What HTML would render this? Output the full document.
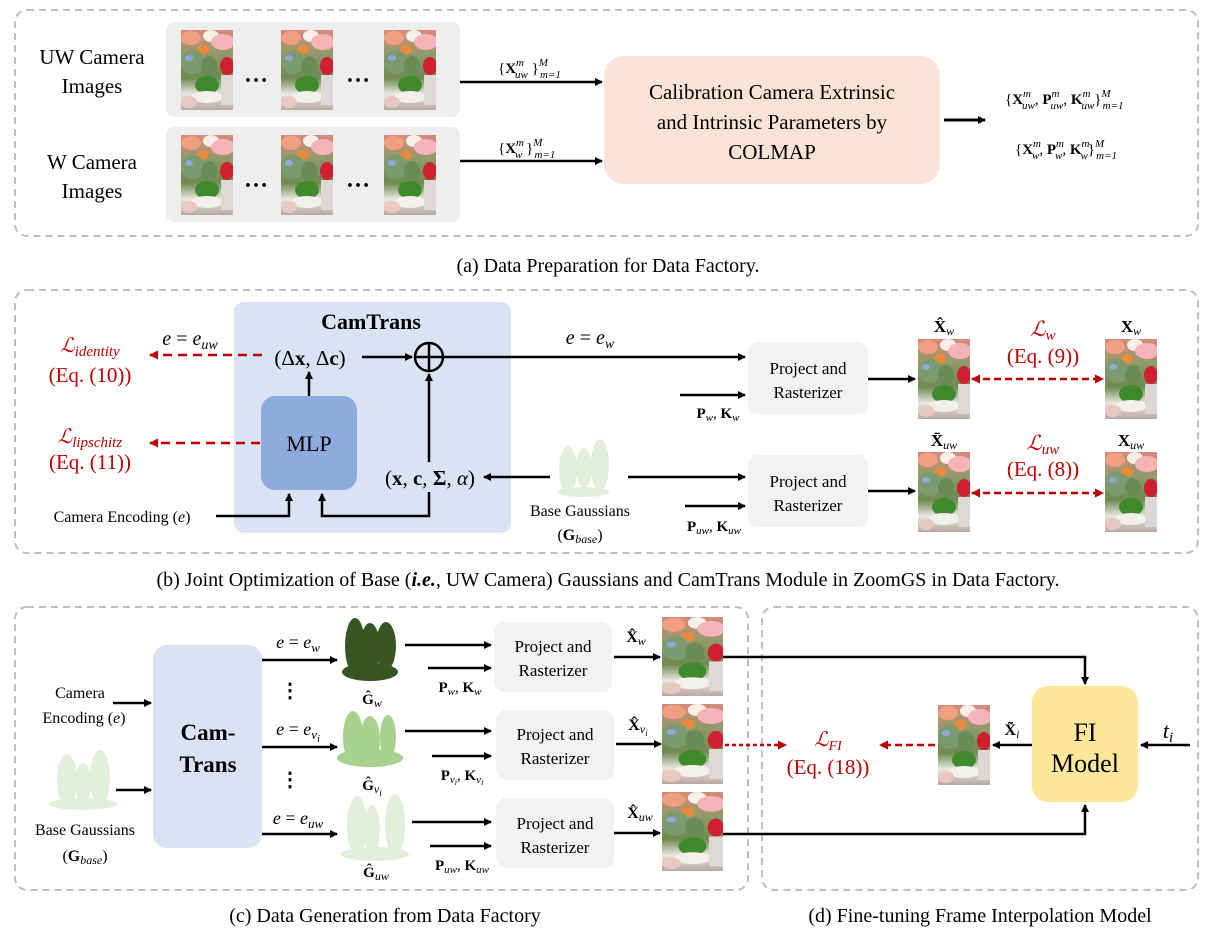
<!DOCTYPE html>
<html><head><meta charset="utf-8"><style>
html,body{margin:0;padding:0;background:#fff}
svg{display:block}
text{font-family:"Liberation Serif",serif;fill:#000}
.r{fill:#c00000}
.b{font-weight:bold}
.i{font-style:italic}
</style></head><body>
<svg width="1217" height="935" viewBox="0 0 1217 935" xmlns="http://www.w3.org/2000/svg">
<defs>
<marker id="ar" markerWidth="8" markerHeight="8" refX="7" refY="4" orient="auto" markerUnits="userSpaceOnUse"><path d="M0,0 L8,4 L0,8 z" fill="#000"/></marker>
<marker id="rr" markerWidth="9" markerHeight="9" refX="8" refY="4.5" orient="auto-start-reverse" markerUnits="userSpaceOnUse"><path d="M0,0 L9,4.5 L0,9 z" fill="#c00000"/></marker>
<linearGradient id="pg" x1="0" y1="0" x2="0" y2="1">
<stop offset="0" stop-color="#d98a7a"/><stop offset="0.3" stop-color="#8f9a6a"/><stop offset="0.6" stop-color="#6f8a50"/><stop offset="0.8" stop-color="#e8e6e0"/><stop offset="1" stop-color="#b8a8a0"/></linearGradient>
<symbol id="ph" viewBox="0 0 52 80" preserveAspectRatio="none">
<rect width="52" height="80" fill="url(#pg)"/>
<ellipse cx="10" cy="8" rx="10" ry="7" fill="#f0a080"/>
<ellipse cx="30" cy="6" rx="8" ry="6" fill="#f8f0e8"/>
<ellipse cx="42" cy="12" rx="12" ry="8" fill="#f4b4b8"/>
<ellipse cx="22" cy="20" rx="6" ry="5" fill="#e88a40"/>
<ellipse cx="46" cy="36" rx="7" ry="9" fill="#d02030"/>
<ellipse cx="12" cy="32" rx="12" ry="12" fill="#7b9a70"/>
<ellipse cx="8" cy="28" rx="4" ry="3" fill="#90a8d8"/>
<ellipse cx="28" cy="36" rx="8" ry="10" fill="#6a8a58"/>
<ellipse cx="26" cy="55" rx="12" ry="9" fill="#3f8a2a"/>
<ellipse cx="26" cy="67" rx="16" ry="6" fill="#f2f0ea"/>
<rect x="40" y="45" width="12" height="30" fill="#ddd8d6"/>
<ellipse cx="8" cy="72" rx="8" ry="6" fill="#e8c8c0"/>
</symbol>
</defs>

<!-- Panel a -->
<rect x="15" y="10" width="1183" height="226" rx="12" fill="none" stroke="#bfbfbf" stroke-width="2" stroke-dasharray="7,5"/>
<rect x="166" y="22" width="294" height="95" rx="8" fill="#eeeeee"/>
<rect x="166" y="127" width="294" height="95" rx="8" fill="#eeeeee"/>
<use href="#ph" x="181" y="30" width="52" height="80"/>
<use href="#ph" x="281" y="30" width="52" height="80"/>
<use href="#ph" x="384" y="30" width="52" height="80"/>
<use href="#ph" x="181" y="135" width="52" height="80"/>
<use href="#ph" x="281" y="135" width="52" height="80"/>
<use href="#ph" x="384" y="135" width="52" height="80"/>
<text x="256" y="82" font-size="24" class="b" text-anchor="middle">…</text>
<text x="358" y="82" font-size="24" class="b" text-anchor="middle">…</text>
<text x="256" y="187" font-size="24" class="b" text-anchor="middle">…</text>
<text x="358" y="187" font-size="24" class="b" text-anchor="middle">…</text>
<text x="92" y="64" font-size="21" text-anchor="middle">UW Camera</text>
<text x="92" y="93" font-size="21" text-anchor="middle">Images</text>
<text x="92" y="169" font-size="21" text-anchor="middle">W Camera</text>
<text x="92" y="198" font-size="21" text-anchor="middle">Images</text>
<line x1="460" y1="82" x2="602" y2="82" stroke="#000" stroke-width="2.5" marker-end="url(#ar)"/>
<line x1="460" y1="161" x2="602" y2="161" stroke="#000" stroke-width="2.5" marker-end="url(#ar)"/>
<text x="498" y="73" font-size="15">{<tspan class="b">X</tspan><tspan class="i" font-size="11" dy="-7">m</tspan><tspan class="i" font-size="11" dx="-9" dy="12">uw</tspan><tspan dy="-5"> }</tspan><tspan class="i" font-size="11" dy="-7">M</tspan><tspan class="i" font-size="11" dx="-8" dy="12">m=1</tspan></text>
<text x="498" y="153" font-size="15">{<tspan class="b">X</tspan><tspan class="i" font-size="11" dy="-7">m</tspan><tspan class="i" font-size="11" dx="-9" dy="12">w</tspan><tspan dy="-5"> }</tspan><tspan class="i" font-size="11" dy="-7">M</tspan><tspan class="i" font-size="11" dx="-8" dy="12">m=1</tspan></text>
<rect x="604" y="56" width="336" height="128" rx="20" fill="#fbe4d5"/>
<text x="772" y="99" font-size="21" text-anchor="middle">Calibration Camera Extrinsic</text>
<text x="772" y="129" font-size="21" text-anchor="middle">and Intrinsic Parameters by</text>
<text x="772" y="159" font-size="21" text-anchor="middle">COLMAP</text>
<line x1="944" y1="120" x2="985" y2="120" stroke="#000" stroke-width="3" marker-end="url(#ar)"/>
<text x="1005" y="104" font-size="15">{<tspan class="b">X</tspan><tspan class="i" font-size="11" dy="-7">m</tspan><tspan class="i" font-size="11" dx="-9" dy="12">uw</tspan><tspan dy="-5">, </tspan><tspan class="b">P</tspan><tspan class="i" font-size="11" dy="-7">m</tspan><tspan class="i" font-size="11" dx="-9" dy="12">uw</tspan><tspan dy="-5">, </tspan><tspan class="b">K</tspan><tspan class="i" font-size="11" dy="-7">m</tspan><tspan class="i" font-size="11" dx="-9" dy="12">uw</tspan><tspan dy="-5">}</tspan><tspan class="i" font-size="11" dy="-7">M</tspan><tspan class="i" font-size="11" dx="-8" dy="12">m=1</tspan></text>
<text x="1015" y="154" font-size="15">{<tspan class="b">X</tspan><tspan class="i" font-size="11" dy="-7">m</tspan><tspan class="i" font-size="11" dx="-9" dy="12">w</tspan><tspan dy="-5">, </tspan><tspan class="b">P</tspan><tspan class="i" font-size="11" dy="-7">m</tspan><tspan class="i" font-size="11" dx="-9" dy="12">w</tspan><tspan dy="-5">, </tspan><tspan class="b">K</tspan><tspan class="i" font-size="11" dy="-7">m</tspan><tspan class="i" font-size="11" dx="-9" dy="12">w</tspan><tspan dy="-5">}</tspan><tspan class="i" font-size="11" dy="-7">M</tspan><tspan class="i" font-size="11" dx="-8" dy="12">m=1</tspan></text>
<text x="608" y="272" font-size="20" text-anchor="middle">(a) Data Preparation for Data Factory.</text>

<!-- Panel b -->
<rect x="15" y="290" width="1183" height="263" rx="12" fill="none" stroke="#bfbfbf" stroke-width="2" stroke-dasharray="7,5"/>
<rect x="234" y="302" width="277" height="231" rx="10" fill="#dae3f3"/>
<text x="371" y="329" font-size="22" class="b" text-anchor="middle">CamTrans</text>
<rect x="261" y="396" width="96" height="94" rx="14" fill="#8faadc"/>
<text x="309" y="451" font-size="22" text-anchor="middle">MLP</text>
<text x="310" y="365" font-size="21" text-anchor="middle">(Δ<tspan class="b">x</tspan>, Δ<tspan class="b">c</tspan>)</text>
<line x1="309" y1="396" x2="309" y2="372" stroke="#000" stroke-width="2.5" marker-end="url(#ar)"/>
<line x1="362" y1="357" x2="412" y2="357" stroke="#000" stroke-width="2.5" marker-end="url(#ar)"/>
<circle cx="429" cy="357" r="14" fill="none" stroke="#000" stroke-width="2.5"/>
<line x1="415" y1="357" x2="443" y2="357" stroke="#000" stroke-width="2.5"/>
<line x1="429" y1="343" x2="429" y2="371" stroke="#000" stroke-width="2.5"/>
<line x1="429" y1="462" x2="429" y2="374" stroke="#000" stroke-width="2.5" marker-end="url(#ar)"/>
<text x="430" y="485" font-size="21" text-anchor="middle">(<tspan class="b">x</tspan>, <tspan class="b">c</tspan>, <tspan class="b">Σ</tspan>, <tspan class="i">α</tspan>)</text>
<polyline points="429,492 429,516 322,516 322,494" fill="none" stroke="#000" stroke-width="2.5" marker-end="url(#ar)"/>
<text x="122" y="522" font-size="16" text-anchor="middle">Camera Encoding (<tspan class="i">e</tspan>)</text>
<polyline points="216,516 289,516 289,494" fill="none" stroke="#000" stroke-width="2.5" marker-end="url(#ar)"/>
<line x1="262" y1="355" x2="150" y2="355" stroke="#c00000" stroke-width="2.5" stroke-dasharray="9,6" marker-end="url(#rr)"/>
<line x1="260" y1="443" x2="150" y2="443" stroke="#c00000" stroke-width="2.5" stroke-dasharray="9,6" marker-end="url(#rr)"/>
<text x="90" y="352" font-size="20" class="r i" text-anchor="middle">ℒ<tspan font-size="15" dy="4">identity</tspan></text>
<text x="90" y="382" font-size="21" class="r" text-anchor="middle">(Eq. (10))</text>
<text x="90" y="443" font-size="20" class="r i" text-anchor="middle">ℒ<tspan font-size="15" dy="4">lipschitz</tspan></text>
<text x="90" y="469" font-size="21" class="r" text-anchor="middle">(Eq. (11))</text>
<text x="190" y="345" font-size="20" text-anchor="middle"><tspan class="i">e</tspan> = <tspan class="i">e</tspan><tspan class="i" font-size="14" dy="4">uw</tspan></text>
<line x1="443" y1="357" x2="745" y2="357" stroke="#000" stroke-width="2.5" marker-end="url(#ar)"/>
<text x="590" y="344" font-size="20" text-anchor="middle"><tspan class="i">e</tspan> = <tspan class="i">e</tspan><tspan class="i" font-size="14" dy="4">w</tspan></text>
<ellipse cx="568" cy="470" rx="9" ry="24" fill="#e2efda"/>
<ellipse cx="584" cy="468" rx="8" ry="20" fill="#e2efda"/>
<ellipse cx="600" cy="465" rx="9" ry="26" fill="#e2efda"/>
<ellipse cx="583" cy="492" rx="26" ry="5" fill="#e2efda"/>
<line x1="550" y1="477" x2="484" y2="477" stroke="#000" stroke-width="2.5" marker-end="url(#ar)"/>
<text x="580" y="516" font-size="16" text-anchor="middle">Base Gaussians</text>
<text x="580" y="540" font-size="16" text-anchor="middle">(<tspan class="b">G</tspan><tspan class="i" font-size="12" dy="3">base</tspan><tspan dy="-3">)</tspan></text>
<rect x="748" y="342" width="120" height="72" rx="10" fill="#f2f2f2"/>
<text x="808" y="374" font-size="17" text-anchor="middle">Project and</text>
<text x="808" y="398" font-size="17" text-anchor="middle">Rasterizer</text>
<rect x="748" y="455" width="120" height="72" rx="10" fill="#f2f2f2"/>
<text x="808" y="487" font-size="17" text-anchor="middle">Project and</text>
<text x="808" y="511" font-size="17" text-anchor="middle">Rasterizer</text>
<line x1="680" y1="395" x2="745" y2="395" stroke="#000" stroke-width="2.5" marker-end="url(#ar)"/>
<text x="718" y="418" font-size="15" class="b" text-anchor="middle">P<tspan class="i" font-size="11" dy="3" font-weight="normal">w</tspan><tspan dy="-3" font-weight="normal">, </tspan>K<tspan class="i" font-size="11" dy="3" font-weight="normal">w</tspan></text>
<line x1="628" y1="477" x2="745" y2="477" stroke="#000" stroke-width="2.5" marker-end="url(#ar)"/>
<line x1="685" y1="506" x2="745" y2="506" stroke="#000" stroke-width="2.5" marker-end="url(#ar)"/>
<text x="714" y="531" font-size="15" class="b" text-anchor="middle">P<tspan class="i" font-size="11" dy="3" font-weight="normal">uw</tspan><tspan dy="-3" font-weight="normal">, </tspan>K<tspan class="i" font-size="11" dy="3" font-weight="normal">uw</tspan></text>
<line x1="868" y1="379" x2="915" y2="379" stroke="#000" stroke-width="2.5" marker-end="url(#ar)"/>
<line x1="868" y1="491" x2="915" y2="491" stroke="#000" stroke-width="2.5" marker-end="url(#ar)"/>
<use href="#ph" x="918" y="339" width="52" height="80"/>
<use href="#ph" x="1105" y="339" width="52" height="80"/>
<use href="#ph" x="918" y="452" width="52" height="80"/>
<use href="#ph" x="1105" y="452" width="52" height="80"/>
<line x1="972" y1="379" x2="1103" y2="379" stroke="#c00000" stroke-width="2.5" stroke-dasharray="7,4" marker-start="url(#rr)" marker-end="url(#rr)"/>
<line x1="972" y1="493" x2="1103" y2="493" stroke="#c00000" stroke-width="2.5" stroke-dasharray="7,4" marker-start="url(#rr)" marker-end="url(#rr)"/>
<text x="1043" y="336" font-size="21" class="r i" text-anchor="middle">ℒ<tspan font-size="15" dy="4">w</tspan></text>
<text x="1043" y="363" font-size="21" class="r" text-anchor="middle">(Eq. (9))</text>
<text x="1043" y="450" font-size="21" class="r i" text-anchor="middle">ℒ<tspan font-size="15" dy="4">uw</tspan></text>
<text x="1043" y="476" font-size="21" class="r" text-anchor="middle">(Eq. (8))</text>
<text x="944" y="332" font-size="17" class="b" text-anchor="middle">X̂<tspan class="i" font-size="12" dy="3" font-weight="normal">w</tspan></text>
<text x="1131" y="332" font-size="17" class="b" text-anchor="middle">X<tspan class="i" font-size="12" dy="3" font-weight="normal">w</tspan></text>
<text x="944" y="446" font-size="17" class="b" text-anchor="middle">X̄<tspan class="i" font-size="12" dy="3" font-weight="normal">uw</tspan></text>
<text x="1131" y="446" font-size="17" class="b" text-anchor="middle">X<tspan class="i" font-size="12" dy="3" font-weight="normal">uw</tspan></text>
<text x="608" y="586" font-size="20" text-anchor="middle">(b) Joint Optimization of Base (<tspan class="b i">i.e.</tspan>, UW Camera) Gaussians and CamTrans Module in ZoomGS in Data Factory.</text>

<!-- Panel c -->
<rect x="15" y="607" width="733" height="283" rx="12" fill="none" stroke="#bfbfbf" stroke-width="2" stroke-dasharray="7,5"/>
<rect x="153" y="645" width="109" height="203" rx="14" fill="#dae3f3"/>
<text x="208" y="740" font-size="23" class="b" text-anchor="middle">Cam-</text>
<text x="208" y="772" font-size="23" class="b" text-anchor="middle">Trans</text>
<text x="80" y="698" font-size="16" text-anchor="middle">Camera</text>
<text x="84" y="723" font-size="16" text-anchor="middle">Encoding (<tspan class="i">e</tspan>)</text>
<line x1="113" y1="703" x2="151" y2="703" stroke="#000" stroke-width="2.5" marker-end="url(#ar)"/>
<ellipse cx="67" cy="780" rx="10" ry="26" fill="#e2efda"/>
<ellipse cx="83" cy="783" rx="8" ry="20" fill="#e2efda"/>
<ellipse cx="100" cy="778" rx="10" ry="28" fill="#e2efda"/>
<ellipse cx="83" cy="804" rx="34" ry="6" fill="#e2efda"/>
<line x1="116" y1="790" x2="151" y2="790" stroke="#000" stroke-width="2.5" marker-end="url(#ar)"/>
<text x="85" y="835" font-size="16" text-anchor="middle">Base Gaussians</text>
<text x="85" y="861" font-size="16" text-anchor="middle">(<tspan class="b">G</tspan><tspan class="i" font-size="12" dy="3">base</tspan><tspan dy="-3">)</tspan></text>
<!-- rows -->
<line x1="262" y1="660" x2="337" y2="660" stroke="#000" stroke-width="2.5" marker-end="url(#ar)"/>
<line x1="262" y1="747" x2="337" y2="747" stroke="#000" stroke-width="2.5" marker-end="url(#ar)"/>
<line x1="262" y1="834" x2="337" y2="834" stroke="#000" stroke-width="2.5" marker-end="url(#ar)"/>
<text x="298" y="648" font-size="18" text-anchor="middle"><tspan class="i">e</tspan> = <tspan class="i">e</tspan><tspan class="i" font-size="13" dy="4">w</tspan></text>
<text x="298" y="735" font-size="18" text-anchor="middle"><tspan class="i">e</tspan> = <tspan class="i">e</tspan><tspan class="i" font-size="13" dy="4">v<tspan font-size="10" dy="3">i</tspan></tspan></text>
<text x="298" y="824" font-size="18" text-anchor="middle"><tspan class="i">e</tspan> = <tspan class="i">e</tspan><tspan class="i" font-size="13" dy="4">uw</tspan></text>
<text x="290" y="697" font-size="20" class="b" text-anchor="middle">⋮</text>
<text x="290" y="786" font-size="20" class="b" text-anchor="middle">⋮</text>
<g fill="#375623"><ellipse cx="355" cy="646" rx="10" ry="28"/><ellipse cx="370" cy="649" rx="10" ry="26"/><ellipse cx="386" cy="646" rx="10" ry="24"/><ellipse cx="370" cy="672" rx="28" ry="9"/></g>
<g fill="#a9d18e"><ellipse cx="353" cy="737" rx="10" ry="26"/><ellipse cx="370" cy="740" rx="10" ry="24"/><ellipse cx="388" cy="737" rx="8" ry="22"/><ellipse cx="370" cy="758" rx="33" ry="9"/></g>
<g fill="#e2efda"><ellipse cx="357" cy="826" rx="10" ry="30"/><ellipse cx="372" cy="830" rx="8" ry="25"/><ellipse cx="395" cy="825" rx="10" ry="31"/><ellipse cx="375" cy="854" rx="34" ry="7"/></g>
<text x="372" y="704" font-size="15" class="b" text-anchor="middle">Ĝ<tspan class="i" font-size="12" dy="3" font-weight="normal">w</tspan></text>
<text x="372" y="790" font-size="15" class="b" text-anchor="middle">Ĝ<tspan class="i" font-size="12" dy="3" font-weight="normal">v<tspan font-size="9" dy="3">i</tspan></tspan></text>
<text x="376" y="877" font-size="15" class="b" text-anchor="middle">Ĝ<tspan class="i" font-size="12" dy="3" font-weight="normal">uw</tspan></text>
<line x1="405" y1="645" x2="491" y2="645" stroke="#000" stroke-width="2.5" marker-end="url(#ar)"/>
<line x1="405" y1="731" x2="491" y2="731" stroke="#000" stroke-width="2.5" marker-end="url(#ar)"/>
<line x1="412" y1="822" x2="491" y2="822" stroke="#000" stroke-width="2.5" marker-end="url(#ar)"/>
<line x1="428" y1="668" x2="491" y2="668" stroke="#000" stroke-width="2.5" marker-end="url(#ar)"/>
<line x1="432" y1="756" x2="491" y2="756" stroke="#000" stroke-width="2.5" marker-end="url(#ar)"/>
<line x1="430" y1="846" x2="491" y2="846" stroke="#000" stroke-width="2.5" marker-end="url(#ar)"/>
<text x="460" y="692" font-size="15" class="b" text-anchor="middle">P<tspan class="i" font-size="11" dy="3" font-weight="normal">w</tspan><tspan dy="-3" font-weight="normal">, </tspan>K<tspan class="i" font-size="11" dy="3" font-weight="normal">w</tspan></text>
<text x="462" y="780" font-size="15" class="b" text-anchor="middle">P<tspan class="i" font-size="11" dy="3" font-weight="normal">v<tspan font-size="8" dy="2">i</tspan></tspan><tspan dy="-5" font-weight="normal">, </tspan>K<tspan class="i" font-size="11" dy="3" font-weight="normal">v<tspan font-size="8" dy="2">i</tspan></tspan></text>
<text x="462" y="870" font-size="15" class="b" text-anchor="middle">P<tspan class="i" font-size="11" dy="3" font-weight="normal">uw</tspan><tspan dy="-3" font-weight="normal">, </tspan>K<tspan class="i" font-size="11" dy="3" font-weight="normal">uw</tspan></text>
<rect x="494" y="622" width="118" height="70" rx="10" fill="#f2f2f2"/>
<text x="553" y="652" font-size="17" text-anchor="middle">Project and</text>
<text x="553" y="676" font-size="17" text-anchor="middle">Rasterizer</text>
<rect x="496" y="710" width="118" height="70" rx="10" fill="#f2f2f2"/>
<text x="555" y="740" font-size="17" text-anchor="middle">Project and</text>
<text x="555" y="764" font-size="17" text-anchor="middle">Rasterizer</text>
<rect x="496" y="798" width="118" height="70" rx="10" fill="#f2f2f2"/>
<text x="555" y="829" font-size="17" text-anchor="middle">Project and</text>
<text x="555" y="853" font-size="17" text-anchor="middle">Rasterizer</text>
<line x1="614" y1="657" x2="660" y2="657" stroke="#000" stroke-width="2.5" marker-end="url(#ar)"/>
<line x1="616" y1="744" x2="661" y2="744" stroke="#000" stroke-width="2.5" marker-end="url(#ar)"/>
<line x1="614" y1="833" x2="660" y2="833" stroke="#000" stroke-width="2.5" marker-end="url(#ar)"/>
<text x="636" y="642" font-size="16" class="b" text-anchor="middle">X̂<tspan class="i" font-size="12" dy="3" font-weight="normal">w</tspan></text>
<text x="638" y="730" font-size="16" class="b" text-anchor="middle">X̂<tspan class="i" font-size="12" dy="3" font-weight="normal">v<tspan font-size="9" dy="3">i</tspan></tspan></text>
<text x="640" y="818" font-size="16" class="b" text-anchor="middle">X̂<tspan class="i" font-size="12" dy="3" font-weight="normal">uw</tspan></text>
<use href="#ph" x="662" y="617" width="61" height="79"/>
<use href="#ph" x="662" y="704" width="61" height="80"/>
<use href="#ph" x="662" y="792" width="61" height="79"/>
<text x="385" y="922" font-size="20" text-anchor="middle">(c) Data Generation from Data Factory</text>

<!-- Panel d -->
<rect x="762" y="607" width="436" height="283" rx="12" fill="none" stroke="#bfbfbf" stroke-width="2" stroke-dasharray="7,5"/>
<polyline points="723,657 1085,657 1085,684" fill="none" stroke="#000" stroke-width="2.5" marker-end="url(#ar)"/>
<polyline points="723,834 1085,834 1085,805" fill="none" stroke="#000" stroke-width="2.5" marker-end="url(#ar)"/>
<rect x="1032" y="686" width="106" height="116" rx="16" fill="#ffe699"/>
<text x="1085" y="741" font-size="26" text-anchor="middle">FI</text>
<text x="1085" y="772" font-size="26" text-anchor="middle">Model</text>
<text x="1168" y="738" font-size="22" class="i" text-anchor="middle">t<tspan font-size="15" dy="4">i</tspan></text>
<line x1="1190" y1="745" x2="1141" y2="745" stroke="#000" stroke-width="2.5" marker-end="url(#ar)"/>
<line x1="1032" y1="745" x2="993" y2="745" stroke="#000" stroke-width="2.5" marker-end="url(#ar)"/>
<text x="1012" y="735" font-size="16" class="b" text-anchor="middle">X̃<tspan class="i" font-size="12" dy="3" font-weight="normal">i</tspan></text>
<use href="#ph" x="938" y="705" width="52" height="80"/>
<line x1="725" y1="745" x2="786" y2="745" stroke="#c00000" stroke-width="2.5" stroke-dasharray="4,3" marker-end="url(#rr)"/>
<line x1="935" y1="745" x2="880" y2="745" stroke="#c00000" stroke-width="2.5" stroke-dasharray="7,4" marker-end="url(#rr)"/>
<text x="828" y="746" font-size="20" class="r i" text-anchor="middle">ℒ<tspan font-size="14" dy="4">FI</tspan></text>
<text x="828" y="774" font-size="21" class="r" text-anchor="middle">(Eq. (18))</text>
<text x="980" y="922" font-size="20" text-anchor="middle">(d) Fine-tuning Frame Interpolation Model</text>
</svg>
</body></html>
